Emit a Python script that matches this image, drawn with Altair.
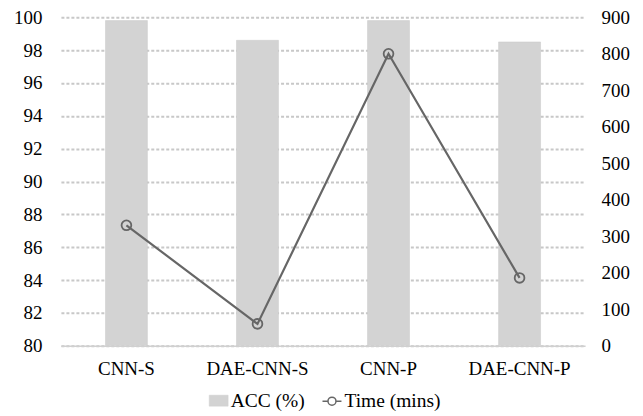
import altair as alt
import pandas as pd

models = ["CNN-S", "DAE-CNN-S", "CNN-P", "DAE-CNN-P"]
acc = [99.8, 98.6, 99.8, 98.5]
time_mins = [330, 60, 800, 186]
left_ticks = list(range(80, 101, 2))
right_ticks = list(range(0, 901, 100))
series = ["ACC (%)", "Time (mins)"]

df = pd.DataFrame({
    "model": models,
    "acc": acc,
    "time": time_mins,
    "s_acc": [series[0]] * len(models),
    "s_time": [series[1]] * len(models),
})

FONT = "Tinos, 'Liberation Serif', 'DejaVu Serif', 'Times New Roman', Times, serif"
BAR = "#d3d3d3"
LINE = "#666666"
GRID = "#c8c8c8"

common_legend = dict(
    orient="none",
    legendY=374,
    direction="horizontal",
    title=None,
    labelFont=FONT,
    labelFontSize=19.5,
    labelColor="black",
    labelOffset=2,
    symbolSize=361,
)

legend_acc = alt.Legend(
    legendX=148,
    symbolType="M-1,-0.58H1V0.58H-1Z",
    symbolFillColor=BAR,
    symbolStrokeColor=BAR,
    symbolStrokeWidth=0.5,
    **common_legend,
)
legend_time = alt.Legend(
    legendX=261,
    symbolType="M-1,0H-0.42M0.42,0H1M0.42,0A0.42,0.42,0,1,0,-0.42,0A0.42,0.42,0,1,0,0.42,0",
    symbolStrokeColor=LINE,
    symbolStrokeWidth=1.5,
    **common_legend,
)

x = alt.X(
    "model:N",
    sort=models,
    title=None,
    scale=alt.Scale(paddingInner=0.68, paddingOuter=0.34),
    axis=alt.Axis(
        labelAngle=0,
        labelPadding=14,
        ticks=False,
        domainColor="#d0d0d0",
        domainWidth=1.5,
        labelFont=FONT,
        labelFontSize=19,
        labelColor="black",
    ),
)

bars = alt.Chart(df).mark_bar(stroke="#c8c8c8", strokeWidth=0.5, clip=True).encode(
    x=x,
    y=alt.Y(
        "acc:Q",
        scale=alt.Scale(domain=[80, 100], nice=False, zero=False),
        axis=alt.Axis(
            values=left_ticks,
            title=None,
            grid=True,
            gridDash=[3, 2],
            gridWidth=2,
            gridColor=GRID,
            domain=False,
            ticks=False,
            labelPadding=19,
            labelFont=FONT,
            labelFontSize=19,
            labelColor="black",
            orient="left",
        ),
    ),
    y2=alt.datum(80),
    fill=alt.Fill(
        "s_acc:N", scale=alt.Scale(domain=[series[0]], range=[BAR]), legend=legend_acc
    ),
)

line = alt.Chart(df).mark_line(
    strokeWidth=2.2,
    point=alt.OverlayMarkDef(filled=False, fill="transparent", size=95, strokeWidth=1.8),
).encode(
    x=x,
    y=alt.Y(
        "time:Q",
        scale=alt.Scale(domain=[0, 900], nice=False),
        axis=alt.Axis(
            values=right_ticks,
            title=None,
            grid=False,
            domain=False,
            ticks=False,
            labelPadding=16,
            labelFont=FONT,
            labelFontSize=19,
            labelColor="black",
            orient="right",
        ),
    ),
    stroke=alt.Stroke(
        "s_time:N", scale=alt.Scale(domain=[series[1]], range=[LINE]), legend=legend_time
    ),
)

chart = (
    alt.layer(bars, line)
    .resolve_scale(y="independent")
    .properties(
        width=525,
        height=329,
        padding={"left": 5, "top": 0, "right": 5, "bottom": 0},
    )
    .configure(font=FONT)
    .configure_view(stroke=None)
)

chart.save("out.html", embed_options={"renderer": "svg", "actions": False})
